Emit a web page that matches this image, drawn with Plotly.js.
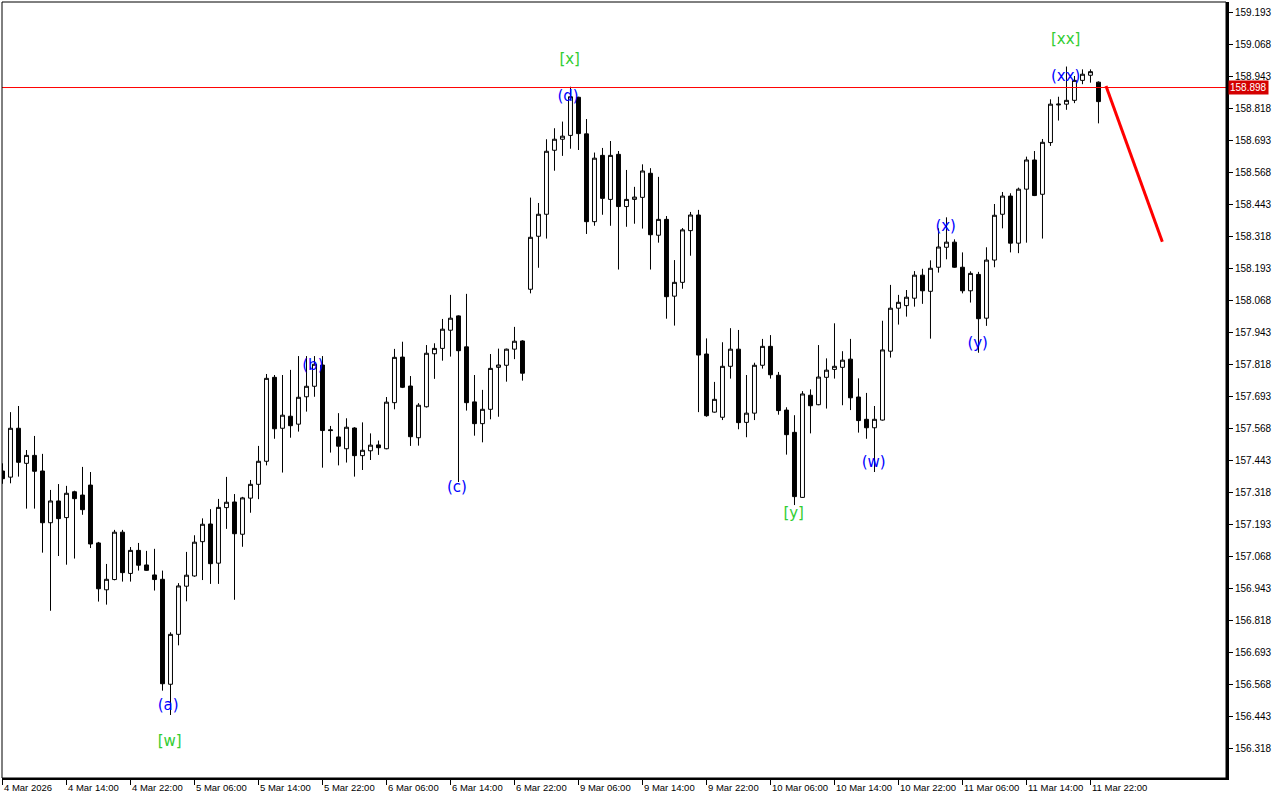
<!DOCTYPE html>
<html>
<head>
<meta charset="utf-8">
<script src="https://cdn.plot.ly/plotly-3.0.1.min.js"></script>
<style>html,body{margin:0;padding:0;background:#fff;}#chart{width:1280px;height:800px;}</style>
</head>
<body>
<div id="chart"></div>
<script>
// Hourly candles, index 0 = 4 Mar 2026 06:00
const openP = [157.400,157.376,157.567,157.430,157.461,157.400,157.198,157.283,157.218,157.319,
157.306,157.345,157.119,156.936,156.976,157.161,157.000,157.090,157.033,156.994,
156.977,156.567,156.762,156.950,156.990,157.124,157.193,157.040,157.257,157.279,
157.153,157.294,157.348,157.438,157.766,157.567,157.614,157.583,157.690,157.731,
157.814,157.561,157.533,157.487,157.568,157.460,157.479,157.502,157.487,157.667,
157.845,157.732,157.530,157.651,157.858,157.879,157.950,158.006,157.885,157.670,
157.585,157.641,157.805,157.813,157.876,157.908,158.110,158.317,158.403,158.653,
158.696,158.711,158.860,158.717,158.374,158.633,158.461,158.637,158.433,158.461,
158.469,158.563,158.321,158.383,158.083,158.137,158.339,158.400,157.857,157.630,
157.610,157.809,157.876,157.590,157.626,157.813,157.887,157.774,157.638,157.551,
157.297,157.696,157.659,157.766,157.797,157.805,157.837,157.689,157.602,157.569,
157.599,157.868,158.036,158.046,158.075,158.165,158.102,158.196,158.274,158.294,
158.196,158.104,158.168,157.997,158.224,158.403,158.474,158.290,158.501,158.615,
158.481,158.683,158.830,158.833,158.848,158.926,158.946,158.919];
const highP = [157.430,157.630,157.654,157.482,157.537,157.467,157.326,157.349,157.342,157.323,
157.416,157.396,157.123,157.037,157.170,157.170,157.103,157.119,157.088,157.096,
157.011,156.770,156.962,157.084,157.149,157.215,157.251,157.291,157.377,157.310,
157.299,157.365,157.498,157.779,157.775,157.775,157.795,157.849,157.849,157.849,
157.849,157.576,157.626,157.606,157.571,157.590,157.547,157.519,157.689,157.877,
157.905,157.771,157.665,157.892,157.899,157.994,158.088,158.008,158.092,157.775,
157.717,157.857,157.878,157.878,157.963,157.911,158.468,158.447,158.696,158.739,
158.765,158.901,158.862,158.775,158.644,158.662,158.689,158.650,158.576,158.510,
158.598,158.583,158.549,158.396,158.224,158.349,158.412,158.420,157.918,157.748,
157.903,157.958,157.951,157.775,157.823,157.916,157.931,157.787,157.649,157.618,
157.712,157.719,157.892,157.840,157.977,157.868,157.916,157.762,157.705,157.654,
157.987,158.127,158.088,158.107,158.181,158.190,158.223,158.348,158.391,158.305,
158.254,158.180,158.178,158.274,158.443,158.490,158.485,158.507,158.628,158.650,
158.697,158.852,158.862,158.980,158.943,158.969,158.969,158.922];
const lowP = [157.350,157.352,157.378,157.253,157.253,157.081,156.854,157.068,157.034,157.058,
157.229,157.099,156.890,156.878,156.973,156.968,156.968,157.011,157.010,156.933,
156.542,156.447,156.719,156.891,156.987,156.974,156.959,156.959,157.174,156.897,
157.104,157.237,157.290,157.422,157.526,157.394,157.530,157.554,157.632,157.690,
157.413,157.472,157.422,157.433,157.378,157.404,157.443,157.463,157.485,157.641,
157.724,157.498,157.499,157.648,157.760,157.831,157.847,157.357,157.636,157.538,
157.512,157.602,157.612,157.749,157.837,157.753,158.094,158.194,158.308,158.573,
158.631,158.659,158.654,158.326,158.358,158.401,158.358,158.187,158.354,158.366,
158.347,158.187,158.292,157.995,157.968,158.112,158.241,157.630,157.612,157.628,
157.599,157.761,157.563,157.532,157.599,157.800,157.761,157.620,157.464,157.267,
157.295,157.547,157.657,157.644,157.761,157.657,157.638,157.550,157.526,157.396,
157.597,157.843,157.972,158.003,158.042,158.053,157.917,158.175,158.227,158.194,
158.094,158.058,157.862,157.967,158.196,158.348,158.254,158.251,158.292,158.474,
158.308,158.670,158.769,158.811,158.837,158.911,158.917,158.758];
const closeP = [157.370,157.567,157.434,157.461,157.399,157.198,157.283,157.214,157.313,157.292,
157.249,157.115,156.940,156.977,157.161,157.003,157.090,157.032,157.012,156.976,
156.569,156.762,156.951,156.993,157.122,157.192,157.038,157.258,157.278,157.155,
157.295,157.348,157.438,157.762,157.565,157.618,157.577,157.688,157.731,157.817,
157.558,157.558,157.497,157.571,157.460,157.481,157.501,157.491,157.669,157.844,
157.727,157.534,157.657,157.860,157.879,157.954,157.997,157.870,157.667,157.585,
157.641,157.801,157.814,157.876,157.907,157.782,158.313,158.403,158.649,158.696,
158.708,158.862,158.718,158.374,158.622,158.465,158.633,158.433,158.461,158.470,
158.572,158.323,158.383,158.081,158.137,158.342,158.400,157.853,157.616,157.680,
157.809,157.876,157.589,157.626,157.813,157.887,157.776,157.636,157.542,157.300,
157.701,157.655,157.767,157.794,157.809,157.833,157.686,157.597,157.569,157.602,
157.873,158.036,158.059,158.079,158.165,158.104,158.192,158.275,158.294,158.196,
158.104,158.172,157.995,158.224,158.399,158.474,158.290,158.501,158.615,158.476,
158.684,158.833,158.833,158.848,158.926,158.950,158.960,158.843];

const tickIndex = [0,8,16,24,32,40,48,56,64,72,80,88,96,104,112,120,128,136];
const tickLabels = ["4 Mar 2026","4 Mar 14:00","4 Mar 22:00","5 Mar 06:00","5 Mar 14:00","5 Mar 22:00",
"6 Mar 06:00","6 Mar 14:00","6 Mar 22:00","9 Mar 06:00","9 Mar 14:00","9 Mar 22:00",
"10 Mar 06:00","10 Mar 14:00","10 Mar 22:00","11 Mar 06:00","11 Mar 14:00","11 Mar 22:00"];
const priceTicks = [156.318,156.443,156.568,156.693,156.818,156.943,157.068,157.193,157.318,157.443,
157.568,157.693,157.818,157.943,158.068,158.193,158.318,158.443,158.568,158.693,158.818,158.943,159.068,159.193];

const waveText  = ["[w]","(a)","(b)","(c)","(d)","[x]","[y]","(w)","(x)","(y)","(xx)","[xx]"];
const waveX     = [20.9,20.7,38.8,56.8,70.7,70.9,98.9,108.9,117.9,121.9,132.9,132.9];
const waveY     = [156.342,156.482,157.810,157.334,158.861,159.006,157.232,157.431,158.353,157.896,158.939,159.084];
const waveColor = ["#32cd32","#0000ff","#0000ff","#0000ff","#0000ff","#32cd32","#32cd32","#0000ff","#0000ff","#0000ff","#0000ff","#32cd32"];

const hLinePrice = 158.898;
const forecastX = [137.94, 144.98];
const forecastY = [158.904, 158.296];

const xIdx = openP.map((_, i) => i);

const traces = [
  {
    type: 'candlestick', x: xIdx, open: openP, high: highP, low: lowP, close: closeP,
    increasing: {line: {color: '#000000', width: 1}, fillcolor: '#ffffff'},
    decreasing: {line: {color: '#000000', width: 1}, fillcolor: '#000000'},
    whiskerwidth: 0, hoverinfo: 'skip', showlegend: false
  },
  {
    type: 'scatter', mode: 'lines', x: [-0.0625, 152.94], y: [hLinePrice, hLinePrice],
    line: {color: '#ff0000', width: 1}, hoverinfo: 'skip', showlegend: false
  },
  {
    type: 'scatter', mode: 'lines', x: forecastX, y: forecastY,
    line: {color: '#ff0000', width: 3}, hoverinfo: 'skip', showlegend: false
  },
  {
    type: 'scatter', mode: 'text', x: waveX, y: waveY, text: waveText,
    textposition: 'middle center',
    textfont: {family: 'DejaVu Sans', size: 15, color: waveColor},
    hoverinfo: 'skip', showlegend: false, cliponaxis: false
  }
];

const layout = {
  width: 1280, height: 800,
  margin: {l: 2, r: 54, t: 2, b: 22, pad: 0},
  paper_bgcolor: '#ffffff', plot_bgcolor: '#ffffff',
  showlegend: false,
  xaxis: {
    range: [-0.0625, 152.94], rangeslider: {visible: false},
    tickmode: 'array', tickvals: tickIndex, ticktext: tickLabels,
    tickangle: 0, automargin: false,
    ticks: 'outside', ticklen: 5, tickwidth: 1, tickcolor: '#000',
    ticklabelposition: 'outside right',
    tickfont: {family: 'Liberation Sans', size: 9.5, color: '#000'},
    showgrid: false, zeroline: false,
    showline: true, linecolor: '#000', linewidth: 2, fixedrange: true
  },
  yaxis: {
    side: 'right', range: [156.2008, 159.2321], automargin: false,
    tickmode: 'array', tickvals: priceTicks, ticktext: priceTicks.map(v => v.toFixed(3)),
    ticks: 'outside', ticklen: 4, tickwidth: 1, tickcolor: '#000',
    tickfont: {family: 'Liberation Sans', size: 10, color: '#000'},
    showgrid: false, zeroline: false,
    showline: true, linecolor: '#000', linewidth: 3, fixedrange: true
  },
  shapes: [
    {type: 'rect', xref: 'paper', yref: 'paper', x0: 0, x1: 1, y0: 0, y1: 1,
     line: {color: '#000', width: 1}, fillcolor: 'rgba(0,0,0,0)', layer: 'above'}
  ],
  annotations: [
    {xref: 'paper', yref: 'y', x: 1, y: hLinePrice, xanchor: 'left', yanchor: 'middle',
     xshift: 2, text: hLinePrice.toFixed(3), showarrow: false,
     bgcolor: '#d40000', borderpad: 1,
     font: {family: 'Liberation Sans', size: 10, color: '#ffffff'}}
  ]
};

Plotly.newPlot('chart', traces, layout, {displayModeBar: false, staticPlot: true});
</script>
</body>
</html>
